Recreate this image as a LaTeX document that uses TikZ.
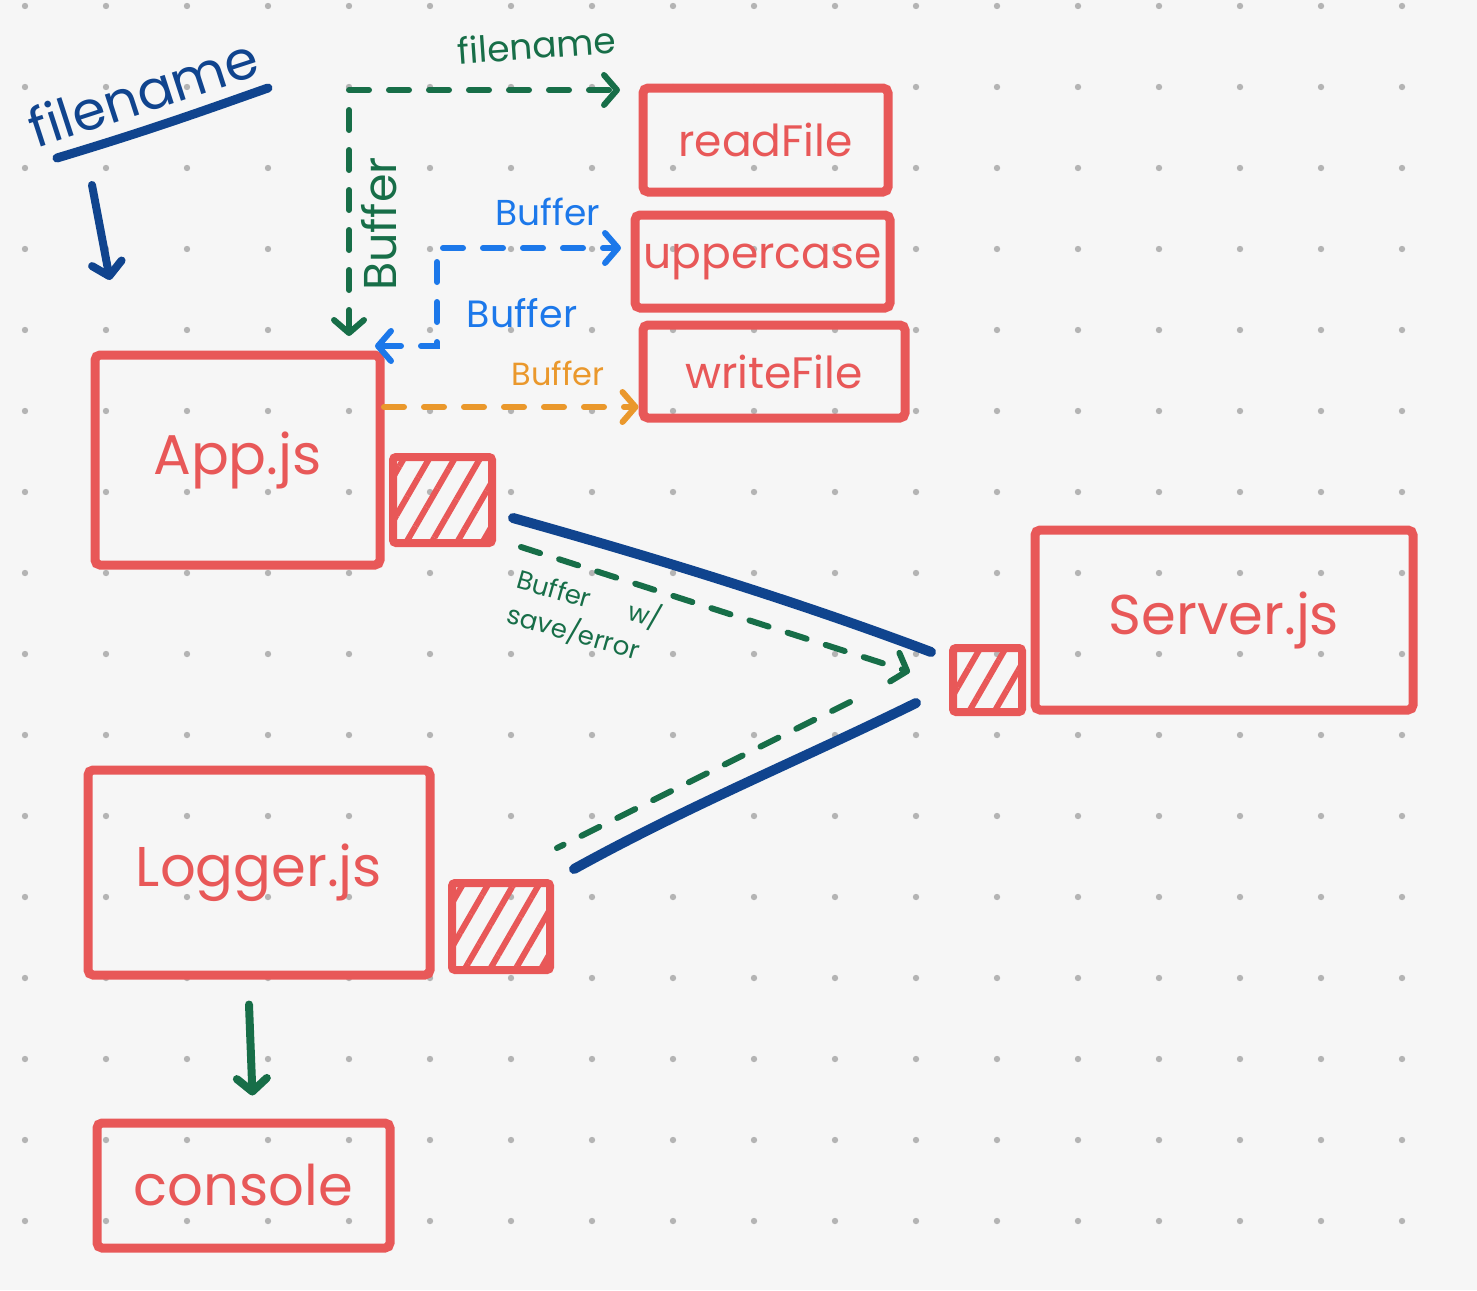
\documentclass[tikz,border=0pt]{standalone}
\usepackage{fontspec}
\setmainfont{Poppins}
\usetikzlibrary{arrows.meta,patterns.meta,calc}
\definecolor{bgc}{HTML}{F6F6F6}
\definecolor{dotc}{HTML}{B4B4B4}
\definecolor{boxred}{HTML}{E85858}
\definecolor{navy}{HTML}{10448E}
\definecolor{grn}{HTML}{176E48}
\definecolor{blu}{HTML}{1C78EA}
\definecolor{org}{HTML}{EA982C}
\tikzset{
  >={Straight Barb[round,length=13pt,width=30pt]},
  redbox/.style={draw=boxred, line width=9pt, rounded corners=5pt, text=boxred, inner sep=0pt, font=\fontsize{44}{48}\selectfont},
  bigbox/.style={redbox, font=\fontsize{56}{60}\selectfont},
  hatchbox/.style={draw=boxred, line width=8pt, rounded corners=3pt, inner sep=0pt,
    pattern={Lines[angle=60,distance=22pt,line width=6pt]}, pattern color=boxred},
  dashline/.style={line width=6pt, line cap=round, dash pattern=on 20pt off 20pt},
  gdash/.style={dashline, draw=grn},
  bdash/.style={dashline, draw=blu},
  odash/.style={dashline, draw=org},
  navyline/.style={draw=navy, line width=10pt, line cap=round},
  gsolid/.style={draw=grn, line width=8pt, line cap=round},
  lbl/.style={inner sep=0pt, font=\fontsize{34}{38}\selectfont}
}
\begin{document}
\begin{tikzpicture}[x=1pt,y=-1pt]
\useasboundingbox (0,0) rectangle (1477,1290);
\fill[bgc] (0,0) rectangle (1477,1290);
\foreach \i in {0,...,17}{\foreach \j in {0,...,15}{\fill[dotc] ({25+81*\i},{6+81*\j}) circle (3.2pt);}}

% boxes
\node[redbox, minimum width=245pt, minimum height=104pt] (readFile) at (765.5,140) {readFile};
\node[redbox, minimum width=255pt, minimum height=93pt] (uppercase) at (762.5,261.5) {uppercase};
\node[redbox, minimum width=262pt, minimum height=93pt] (writeFile) at (774,371.5) {writeFile};
\node[bigbox, minimum width=285pt, minimum height=210pt] (app) at (237.5,460) {App.js};
\node[hatchbox, minimum width=99pt, minimum height=86pt] (h1) at (442.5,500) {};
\node[bigbox, minimum width=378pt, minimum height=180pt] (server) at (1224,620) {Server.js};
\node[hatchbox, minimum width=69pt, minimum height=64pt] (h2) at (987.5,680) {};
\node[bigbox, minimum width=342pt, minimum height=205pt] (logger) at (259,872.5) {Logger.js};
\node[hatchbox, minimum width=98pt, minimum height=87pt] (h3) at (501,926.5) {};
\node[bigbox, minimum width=293pt, minimum height=125pt] (console) at (243.5,1185.5) {console};

% top-left filename
\node[lbl, text=navy, rotate=18, font=\fontsize{54}{58}\selectfont] (fn) at (143,92) {filename};
\draw[navyline, line width=9pt] (57,158) .. controls (150,130) and (200,112) .. (268,88);
\coordinate (fnA) at (92,185);
\coordinate (fnB) at (110,280);
\draw[navyline, line width=8pt, ->] (fnA) -- (fnB);

% green filename / Buffer
\coordinate (gA) at (349,336);
\coordinate (gB) at (620,90);
\draw[gdash, <->] (gA) -- (gA |- gB) -- (gB);
\node[lbl, text=grn, rotate=4, font=\fontsize{36}{40}\selectfont] (lf) at (537,45) {filename};
\node[lbl, text=grn, rotate=90, font=\fontsize{46}{50}\selectfont] (lb1) at (379,224) {Buffer};

% blue Buffer
\coordinate (bA) at (375,346);
\coordinate (bB) at (621,248);
\draw[bdash, <->] (bA) -- ++(62,0) |- (bB);
\node[lbl, text=blu, font=\fontsize{36}{40}\selectfont] (lb2) at (548,212) {Buffer};
\node[lbl, text=blu, font=\fontsize{38}{42}\selectfont] (lb3) at (522,313) {Buffer};

% orange Buffer
\coordinate (oA) at (384,407);
\draw[odash, ->] (oA) -- (oA -| writeFile.west);
\node[lbl, text=org, font=\fontsize{32}{36}\selectfont] (lb4) at (558,373) {Buffer};

% navy connectors
\draw[navyline] ([shift={(18,18)}]h1.east) .. controls (652,557) and (793,600) .. ([shift={(-18,-28)}]h2.west);
\draw[navyline] ([shift={(-33,23)}]h2.west) .. controls (800,760) and (690,805) .. ([shift={(20,-10)}]h3.north east);

% green dashed save/error
\draw[gdash, ->] (521,547) -- (910,672);
\draw[gdash] (850,702) -- (557,848);
\node[lbl, text=grn, rotate=-16, align=left, font=\fontsize{26}{36}\selectfont] (lse) at (585,616) {Buffer\quad\ \ w/\\save/error};

% logger -> console
\draw[gsolid, ->] ([shift={(-10,25)}]logger.south) -- ([shift={(9,-23)}]console.north);
\end{tikzpicture}
\end{document}
